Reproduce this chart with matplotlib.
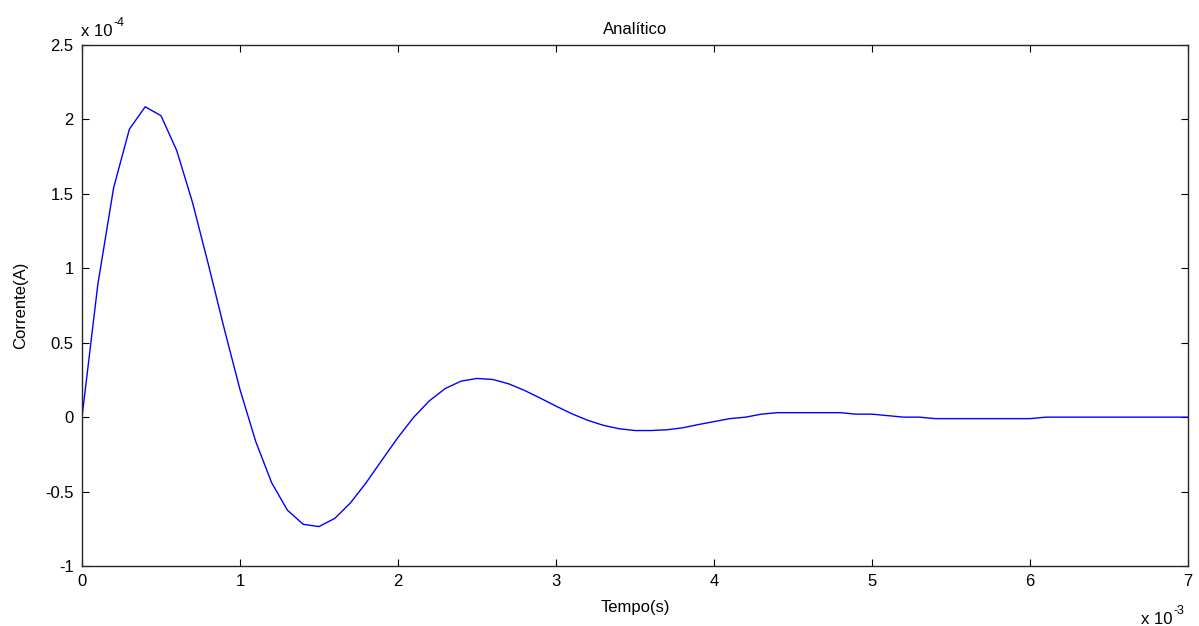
import matplotlib
matplotlib.use("Agg")
import matplotlib.pyplot as plt
from matplotlib.ticker import FuncFormatter, FixedLocator

plt.rcParams['font.family'] = ['Liberation Sans', 'DejaVu Sans']
plt.rcParams['axes.unicode_minus'] = False

# time in ms (x 10^-3 s)
t_ms = [0.0, 0.1, 0.2, 0.3, 0.4, 0.5, 0.6, 0.7, 0.8, 0.9,
        1.0, 1.1, 1.2, 1.3, 1.4, 1.5, 1.6, 1.7, 1.8, 1.9,
        2.0, 2.1, 2.2, 2.3, 2.4, 2.5, 2.6, 2.7, 2.8, 2.9,
        3.0, 3.1, 3.2, 3.3, 3.4, 3.5, 3.6, 3.7, 3.8, 3.9,
        4.0, 4.1, 4.2, 4.3, 4.4, 4.5, 4.6, 4.7, 4.8, 4.9,
        5.0, 5.1, 5.2, 5.3, 5.4, 5.5, 5.6, 5.7, 5.8, 5.9,
        6.0, 6.1, 6.2, 6.3, 6.4, 6.5, 6.6, 6.7, 6.8, 6.9, 7.0]
# current in units of 10^-4 A
i_e4 = [0.0, 0.89, 1.54, 1.935, 2.085, 2.025, 1.79, 1.44, 1.025, 0.595,
        0.185, -0.165, -0.44, -0.625, -0.72, -0.735, -0.68, -0.575, -0.438, -0.286,
        -0.136, 0.0, 0.111, 0.193, 0.242, 0.260, 0.253, 0.224, 0.180, 0.128,
        0.074, 0.023, -0.021, -0.055, -0.078, -0.090, -0.09, -0.085, -0.072, -0.05,
        -0.03, -0.01, 0.0, 0.02, 0.03, 0.03, 0.03, 0.03, 0.03, 0.02,
        0.02, 0.01, 0.0, 0.0, -0.01, -0.01, -0.01, -0.01, -0.01, -0.01,
        -0.01, 0.0, 0.0, 0.0, 0.0, 0.0, 0.0, 0.0, 0.0, 0.0, 0.0]

x_ticks = [0, 1, 2, 3, 4, 5, 6, 7]
y_ticks = [-1, -0.5, 0, 0.5, 1, 1.5, 2, 2.5]

t = [v * 1e-3 for v in t_ms]
i = [v * 1e-4 for v in i_e4]

W, H = 1199, 626
fig = plt.figure(figsize=(W / 100, H / 100), dpi=100)
ax = fig.add_axes([82 / W, 60 / H, 1106 / W, 521 / H])
ax.plot(t, i, color='#0000ff', linewidth=1.0)

ax.set_xlim(0, 7e-3)
ax.set_ylim(-1e-4, 2.5e-4)

def fmt(v):
    return '%g' % round(v, 6)

ax.xaxis.set_major_locator(FixedLocator([v * 1e-3 for v in x_ticks]))
ax.yaxis.set_major_locator(FixedLocator([v * 1e-4 for v in y_ticks]))
ax.xaxis.set_major_formatter(FuncFormatter(lambda v, p: fmt(v * 1e3)))
ax.yaxis.set_major_formatter(FuncFormatter(lambda v, p: fmt(v * 1e4)))

ax.tick_params(direction='in', length=5, width=0.8, top=True, right=True,
               labelsize=12, pad=6, colors='black')
for sp in ax.spines.values():
    sp.set_linewidth(1.0)
    sp.set_color('#262626')

ax.set_title('Analítico', fontsize=12, pad=8)
ax.set_xlabel('Tempo(s)', fontsize=12, labelpad=8)
ax.set_ylabel('Corrente(A)', fontsize=12, labelpad=12)

# exponent labels (MATLAB style)
fig.text(81 / W, 1 - 36 / H, 'x 10', fontsize=12, ha='left', va='baseline')
fig.text(114 / W, 1 - 26 / H, '-4', fontsize=9, ha='left', va='baseline')
fig.text(1141 / W, 1 - 624 / H, 'x 10', fontsize=12, ha='left', va='baseline')
fig.text(1174 / W, 1 - 614 / H, '-3', fontsize=9, ha='left', va='baseline')

fig.savefig('out.png', dpi=100)
